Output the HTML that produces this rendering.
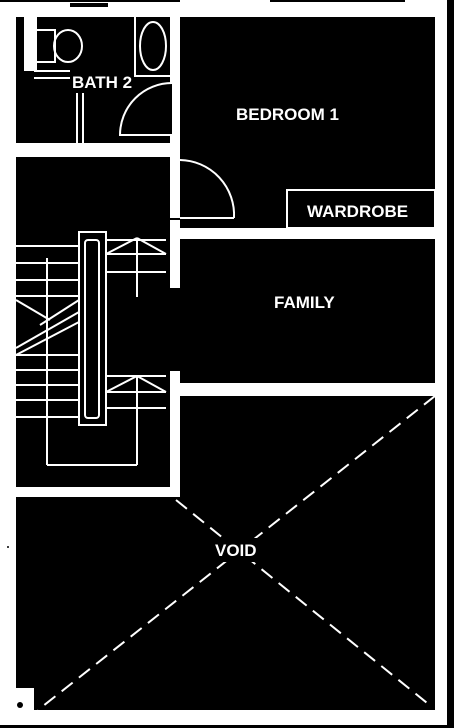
<!DOCTYPE html>
<html><head><meta charset="utf-8"><style>
html,body{margin:0;padding:0;background:#fff;}
svg{display:block}
text{font-family:"Liberation Sans",Arial,sans-serif;fill:#fff;font-size:17px;font-weight:bold;}
</style></head><body>
<svg width="454" height="728" viewBox="0 0 454 728">
<rect x="0" y="0" width="454" height="728" fill="#fff"/>
<rect x="0" y="0" width="180" height="2" fill="#000"/>
<rect x="70" y="3" width="38" height="4" fill="#000"/>
<rect x="270" y="0" width="135" height="2" fill="#000"/>
<rect x="447" y="0" width="7" height="728" fill="#000"/>
<rect x="0" y="725" width="454" height="3" fill="#000"/>
<g>
<rect x="16" y="17" width="156" height="128" fill="#000"/>
<rect x="24" y="17" width="10" height="54" fill="#fff"/>
<rect x="34" y="17" width="3" height="54" fill="#fff"/>
<rect x="35" y="30" width="20" height="32" fill="none" stroke="#fff" stroke-width="2"/>
<ellipse cx="68" cy="46" rx="14" ry="16" fill="none" stroke="#fff" stroke-width="2"/>
<rect x="34" y="70" width="36" height="2" fill="#fff"/>
<rect x="34" y="77" width="36" height="2" fill="#fff"/>
<rect x="16" y="143" width="156" height="14" fill="#fff"/>
<rect x="76" y="93" width="2" height="52" fill="#fff"/>
<rect x="82" y="93" width="2" height="52" fill="#fff"/>
<rect x="134" y="17" width="2" height="60" fill="#fff"/>
<ellipse cx="153" cy="46" rx="13" ry="24" fill="none" stroke="#fff" stroke-width="2"/>
<rect x="134" y="75" width="38" height="2" fill="#fff"/>
<path d="M120 135 A52 52 0 0 1 172 83" fill="none" stroke="#fff" stroke-width="2"/>
<rect x="119" y="134" width="53" height="2" fill="#fff"/>
<rect x="170" y="17" width="10" height="66" fill="#fff"/>
<text x="72" y="88" font-size="14">BATH 2</text>
</g>
<g>
<rect x="180" y="17" width="255" height="213" fill="#000"/>
<rect x="170" y="135" width="10" height="25" fill="#fff"/>
<path d="M180 160 A55 55 0 0 1 234 218" fill="none" stroke="#fff" stroke-width="2"/>
<rect x="180" y="217" width="54" height="2" fill="#fff"/>
<rect x="287" y="190" width="148" height="38" fill="none" stroke="#fff" stroke-width="2"/>
<text x="236" y="120" font-size="16">BEDROOM 1</text>
<text x="307" y="217" font-size="14">WARDROBE</text>
</g>
<rect x="16" y="157" width="154" height="330" fill="#000"/>
<rect x="170" y="218" width="10" height="270" fill="#000"/>
<rect x="172" y="228" width="263" height="11" fill="#fff"/>
<rect x="170" y="220" width="10" height="68" fill="#fff"/>
<rect x="170" y="371" width="10" height="126" fill="#fff"/>
<g>
<rect x="180" y="239" width="255" height="144" fill="#000"/>
<text x="274" y="308" font-size="16">FAMILY</text>
</g>
<g stroke="#fff" stroke-width="2" fill="none">
<rect x="79" y="232" width="27" height="193"/>
<rect x="85" y="240" width="14" height="178" rx="3"/>
<line x1="16" y1="246" x2="79" y2="246"/>
<line x1="16" y1="263" x2="79" y2="263"/>
<line x1="16" y1="280" x2="79" y2="280"/>
<line x1="16" y1="296" x2="79" y2="296"/>
<line x1="16" y1="355" x2="79" y2="355"/>
<line x1="16" y1="370" x2="79" y2="370"/>
<line x1="16" y1="385" x2="79" y2="385"/>
<line x1="16" y1="400" x2="79" y2="400"/>
<line x1="16" y1="417" x2="79" y2="417"/>
<line x1="106" y1="240" x2="166" y2="240"/>
<line x1="106" y1="254" x2="166" y2="254"/>
<line x1="106" y1="272" x2="166" y2="272"/>
<line x1="106" y1="376" x2="166" y2="376"/>
<line x1="106" y1="392" x2="166" y2="392"/>
<line x1="106" y1="408" x2="166" y2="408"/>
<line x1="106" y1="254" x2="137" y2="238"/>
<line x1="137" y1="238" x2="166" y2="254"/>
<line x1="106" y1="392" x2="137" y2="376"/>
<line x1="137" y1="376" x2="166" y2="392"/>
<line x1="137" y1="238" x2="137" y2="297"/>
<line x1="137" y1="376" x2="137" y2="465"/>
<line x1="47" y1="258" x2="47" y2="465"/>
<line x1="47" y1="465" x2="137" y2="465"/>
<line x1="16" y1="300" x2="50" y2="320"/>
<line x1="79" y1="300" x2="40" y2="325"/>
<line x1="16" y1="348" x2="79" y2="312"/>
<line x1="16" y1="355" x2="79" y2="322"/>
</g>
<rect x="16" y="487" width="162" height="10" fill="#fff"/>
<g>
<rect x="180" y="396" width="255" height="314" fill="#000"/>
<rect x="16" y="497" width="419" height="213" fill="#000"/>
<rect x="16" y="688" width="18" height="22" fill="#fff"/>
<circle cx="20" cy="705" r="3" fill="#000"/>
<circle cx="8" cy="547" r="1" fill="#000"/>
<line x1="435" y1="396" x2="38" y2="710" stroke="#fff" stroke-width="2" stroke-dasharray="14,8"/>
<line x1="176" y1="500" x2="432" y2="707" stroke="#fff" stroke-width="2" stroke-dasharray="14,8"/>
<rect x="212" y="538" width="58" height="24" fill="#000"/>
<text x="215" y="556" font-size="16">VOID</text>
</g>
</svg>
</body></html>
